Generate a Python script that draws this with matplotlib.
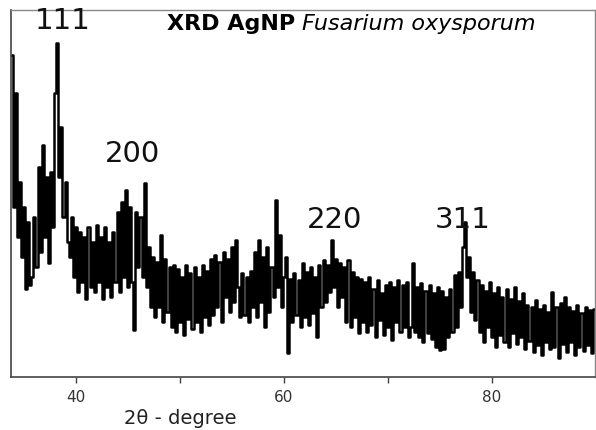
#! /usr/bin/env python
'''
    XRD pattern of silver nanoparticles (Fusarium oxysporum)
'''

import numpy as np
import matplotlib.pyplot as plt
from matplotlib.ticker import MultipleLocator

# 2theta grid of the scan, one value per 0.2 degree from 33.8
start_angle = 33.8
angle_step = 0.2

# intensity (arbitrary units), rows of 2 degrees
intensity = [
    322, 170, 284, 140, 195, 120, 170, 88, 155, 92,      # 33.8
    100, 160, 110, 210, 125, 232, 140, 200, 114, 205,    # 35.8
    150, 284, 334, 200, 250, 160, 195, 135, 120, 160,    # 37.8
    100, 150, 85, 145, 95, 140, 78, 150, 90, 135,        # 39.8
    85, 152, 95, 140, 78, 150, 90, 135, 80, 145,         # 41.8
    95, 165, 85, 175, 100, 187, 90, 170, 95, 47,         # 43.8
    165, 110, 160, 100, 194, 90, 130, 70, 120, 60,       # 45.8
    115, 70, 142, 55, 118, 65, 110, 50, 112, 45,         # 47.8
    108, 55, 100, 42, 112, 58, 104, 48, 110, 55,         # 49.8
    100, 45, 112, 60, 106, 52, 118, 62, 122, 70,         # 51.8
    115, 55, 125, 80, 118, 65, 130, 75, 137, 90,         # 53.8
    60, 104, 62, 100, 55, 106, 70, 125, 60, 137,         # 55.8
    75, 120, 50, 130, 65, 110, 80, 177, 90, 142,         # 57.8
    70, 100, 120, 24, 98, 55, 104, 62, 97, 50,           # 59.8
    114, 60, 105, 52, 110, 64, 100, 40, 112, 70,         # 61.8
    117, 75, 112, 85, 137, 90, 118, 70, 114, 80,         # 63.8
    110, 55, 117, 50, 105, 60, 100, 44, 98, 55,          # 65.8
    95, 45, 100, 52, 88, 40, 97, 57, 84, 42,             # 67.8
    92, 50, 95, 37, 90, 55, 97, 45, 92, 50,              # 69.8
    95, 40, 50, 114, 45, 90, 40, 94, 35, 86,             # 71.8
    44, 92, 38, 84, 30, 90, 27, 86, 28, 80,              # 73.8
    40, 88, 45, 102, 50, 105, 70, 130, 155, 100,         # 75.8
    120, 65, 105, 57, 97, 45, 92, 35, 86, 50,            # 77.8
    95, 40, 84, 30, 90, 42, 80, 35, 88, 30,              # 79.8
    78, 44, 90, 33, 76, 40, 84, 28, 72, 36,              # 81.8
    70, 25, 77, 32, 68, 22, 72, 35, 65, 28,              # 83.8
    85, 30, 70, 19, 74, 33, 80, 25, 70, 35,              # 85.8
    66, 22, 72, 30, 64, 26, 70, 32, 67, 24,              # 87.8
    68,                                                  # 89.8
]

# Miller indices and where their labels sit (2theta, intensity)
peak_labels = ['111', '200', '220', '311']
label_theta = [38.7, 45.4, 64.9, 77.2]
label_inten = [356, 223, 157, 157]

two_theta = start_angle + angle_step * np.arange(len(intensity))

fig = plt.figure(figsize=(5.96, 4.30), dpi=100)
ax = fig.add_axes([11 / 596, 53 / 430, 584 / 596, 367 / 430])

ax.plot(two_theta, intensity, color='black', lw=1.8, drawstyle='steps-mid')

ax.set_xlim(33.75, 89.9)
ax.set_ylim(0, 367)
ax.set_yticks([])
ax.xaxis.set_major_locator(MultipleLocator(20))
ax.xaxis.set_minor_locator(MultipleLocator(10))
ax.tick_params(axis='x', which='both', direction='out', length=4,
               width=1, color='#444444', labelsize=11, labelcolor='#333333',
               pad=5)

for side in ['left', 'bottom']:
    ax.spines[side].set_color('#444444')
    ax.spines[side].set_linewidth(1.2)
for side in ['top', 'right']:
    ax.spines[side].set_color('#888888')
    ax.spines[side].set_linewidth(1.0)

for lab, tx, ty in zip(peak_labels, label_theta, label_inten):
    ax.text(tx, ty, lab, fontsize=21, color='#111111', ha='center',
            va='center', family='DejaVu Sans')

ax.text(0.499, 0.962, 'XRD AgNP ', transform=ax.transAxes, fontsize=16,
        fontweight='bold', ha='right', va='center', family='DejaVu Sans')
ax.text(0.499, 0.962, 'Fusarium oxysporum', transform=ax.transAxes,
        fontsize=16, style='italic', ha='left', va='center',
        family='DejaVu Sans')

fig.text(180 / 596, 1 - 419 / 430, '2\u03b8 - degree', fontsize=14,
         color='#222222', ha='center', va='center')

fig.savefig('out.png', dpi=100)
plt.close(fig)
